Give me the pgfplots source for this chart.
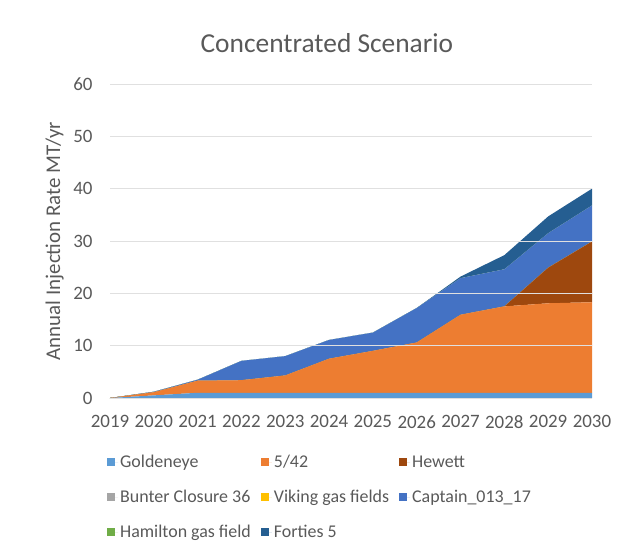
\documentclass[border=0pt]{standalone}
\usepackage{fontspec}
\setmainfont{Carlito}
\usepackage{pgfplots}
\pgfplotsset{compat=1.18}
\definecolor{cGold}{HTML}{5B9BD5}
\definecolor{cFive}{HTML}{ED7D31}
\definecolor{cHew}{HTML}{9E480E}
\definecolor{cBun}{HTML}{A5A5A5}
\definecolor{cVik}{HTML}{FFC000}
\definecolor{cCap}{HTML}{4472C4}
\definecolor{cHam}{HTML}{70AD47}
\definecolor{cFor}{HTML}{255E91}
\definecolor{txt}{HTML}{595959}
\begin{document}
\begin{tikzpicture}
\path (-110bp,-149bp) rectangle (509bp,398bp);
\begin{axis}[
  at={(0,0)}, anchor=south west,
  scale only axis, width=482bp, height=314bp,
  xmin=2019, xmax=2030, ymin=0, ymax=60,
  xtick={2019,...,2030}, ytick={0,10,...,60},
  /pgf/number format/assume math mode=true,
  x tick label style={/pgf/number format/1000 sep={}, font=\fontsize{19}{21}\selectfont, text=txt, yshift=-14bp},
  y tick label style={font=\fontsize{19}{21}\selectfont, text=txt, xshift=-14bp},
  major tick length=0pt,
  axis line style={draw=none},
  ymajorgrids, grid style={draw=black!12, line width=0.8pt},
  ylabel={Annual Injection Rate MT/yr},
  ylabel style={font=\fontsize{21}{23}\selectfont, text=txt, at={(rel axis cs:-0.115,0.5)}, anchor=center},
  title={Concentrated Scenario},
  title style={font=\fontsize{27.5}{31}\selectfont, text=txt, at={(rel axis cs:0.45,1)}, anchor=south, yshift=22bp},
  stack plots=y, area style,
  every axis plot/.append style={draw=none},
  legend columns=3,
  legend cell align=left,
  legend style={at={(rel axis cs:-0.0125,-0.169)}, anchor=north west, draw=none, fill=none,
    font=\fontsize{18}{20}\selectfont, text=txt, row sep=17bp,
    /tikz/every even column/.append style={column sep=8bp}},
  legend image code/.code={\fill[#1] (0bp,-4bp) rectangle (8bp,4bp); \path (0bp,0bp) -- (11bp,0bp);},
]
\addplot[fill=cGold] coordinates {(2019,0) (2020,0.5) (2021,1) (2022,1) (2023,1) (2024,1) (2025,1) (2026,1) (2027,1) (2028,1) (2029,1) (2030,1)} \closedcycle;
\addlegendentry{Goldeneye}
\addplot[fill=cFive] coordinates {(2019,0) (2020,0.6) (2021,2.3) (2022,2.4) (2023,3.3) (2024,6.5) (2025,8.0) (2026,9.6) (2027,14.9) (2028,16.5) (2029,17.1) (2030,17.3)} \closedcycle;
\addlegendentry{5/42}
\addplot[fill=cHew] coordinates {(2019,0) (2020,0) (2021,0) (2022,0) (2023,0) (2024,0) (2025,0) (2026,0) (2027,0) (2028,0) (2029,6.8) (2030,11.6)} \closedcycle;
\addlegendentry{Hewett}
\addplot[fill=cBun] coordinates {(2019,0) (2020,0) (2021,0) (2022,0) (2023,0) (2024,0) (2025,0) (2026,0) (2027,0) (2028,0) (2029,0) (2030,0)} \closedcycle;
\addlegendentry{Bunter Closure 36}
\addplot[fill=cVik] coordinates {(2019,0) (2020,0) (2021,0) (2022,0) (2023,0) (2024,0) (2025,0) (2026,0) (2027,0) (2028,0) (2029,0) (2030,0)} \closedcycle;
\addlegendentry{Viking gas fields}
\addplot[fill=cCap] coordinates {(2019,0) (2020,0.1) (2021,0.2) (2022,3.7) (2023,3.7) (2024,3.6) (2025,3.5) (2026,6.6) (2027,7.0) (2028,7.1) (2029,6.6) (2030,6.9)} \closedcycle;
\addlegendentry{Captain\_013\_17}
\addplot[fill=cHam] coordinates {(2019,0) (2020,0) (2021,0) (2022,0) (2023,0) (2024,0) (2025,0) (2026,0) (2027,0) (2028,0) (2029,0) (2030,0)} \closedcycle;
\addlegendentry{Hamilton gas field}
\addplot[fill=cFor] coordinates {(2019,0) (2020,0) (2021,0) (2022,0) (2023,0) (2024,0) (2025,0) (2026,0) (2027,0.3) (2028,2.7) (2029,3.2) (2030,3.2)} \closedcycle;
\addlegendentry{Forties 5}
\end{axis}
\end{tikzpicture}
\end{document}
